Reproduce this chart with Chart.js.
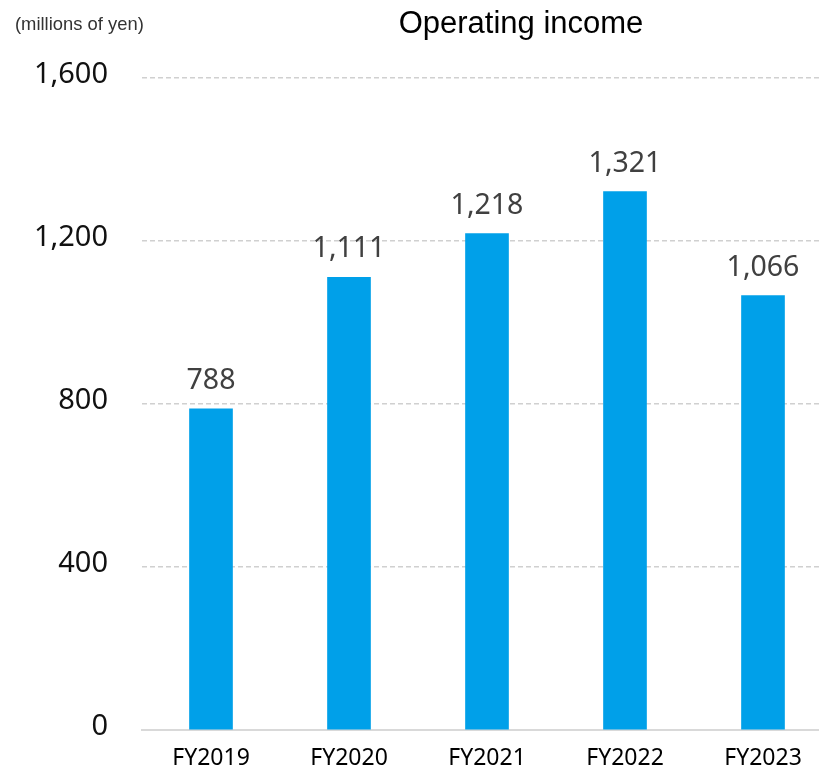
<!DOCTYPE html>
<html>
<head>
<meta charset="utf-8">
<script src="https://cdn.jsdelivr.net/npm/chart.js@4.4.1/dist/chart.umd.min.js"></script>
<style>
    html, body { margin: 0; padding: 0; background: #fff; overflow: hidden; }
    #barChart { position: absolute; left: 0; top: 0; }
</style>
</head>
<body>
<canvas id="barChart" width="832" height="767" style="width:832px;height:767px"></canvas>
<script>
const years = ["FY2019", "FY2020", "FY2021", "FY2022", "FY2023"];
const operatingIncome = [788, 1111, 1218, 1321, 1066];
const yTicks = [0, 400, 800, 1200, 1600];

const chartTitle = "Operating income";
const unitLabel = "(millions of yen)";

const myBarChart = document.getElementById('barChart').getContext('2d');

// value labels above bars + title/unit text
const textPlugin = {
    id: 'textPlugin',
    afterDatasetsDraw(chart) {
        const ctx = chart.ctx;
        const meta = chart.getDatasetMeta(0);
        ctx.save();
        ctx.fillStyle = '#404040';
        ctx.font = '28.5px "Noto Sans"';
        ctx.textAlign = 'center';
        ctx.textBaseline = 'alphabetic';
        meta.data.forEach((bar, i) => {
            ctx.fillText(operatingIncome[i].toLocaleString('en-US'), bar.x, bar.y - 20);
        });
        ctx.restore();
    },
    afterDraw(chart) {
        const ctx = chart.ctx;
        ctx.save();
        ctx.textBaseline = 'middle';
        ctx.fillStyle = '#000';
        ctx.font = '31px "Liberation Sans"';
        ctx.textAlign = 'center';
        ctx.fillText(chartTitle, 521, 24);
        ctx.fillStyle = '#333';
        ctx.font = '18.4px "Liberation Sans"';
        ctx.textAlign = 'left';
        ctx.fillText(unitLabel, 15, 25);
        ctx.restore();
    }
};

new Chart(myBarChart, {
    type: 'bar',
    data: {
        labels: years,
        datasets: [
            {
                label: chartTitle,
                data: operatingIncome,
                backgroundColor: '#00a0e9',
                barThickness: 43,
            }
        ]
    },
    options: {
        responsive: false,
        animation: false,
        devicePixelRatio: 1,
        layout: {
            padding: { left: 0, top: 78, right: 0, bottom: 0 }
        },
        plugins: {
            legend: { display: false },
            tooltip: { enabled: false },
        },
        scales: {
            x: {
                afterFit: (scale) => {
                    scale.height = 37;
                    scale.paddingLeft = 0;
                    scale.paddingRight = 0;
                },
                grid: { display: false, drawTicks: false },
                border: { display: true, color: '#d9d9d9', width: 2 },
                ticks: {
                    color: '#000',
                    padding: 15,
                    font: { family: 'Noto Sans', size: 23 },
                },
            },
            y: {
                min: 0,
                max: 1600,
                afterFit: (scale) => {
                    scale.width = 142;
                    scale.paddingTop = 0;
                    scale.paddingBottom = 0;
                },
                afterBuildTicks: (scale) => {
                    scale.ticks = yTicks.map(v => ({ value: v }));
                },
                border: { display: false, dash: [5, 3] },
                grid: {
                    drawTicks: false,
                    color: (c) => c.tick && c.tick.value === 0 ? 'rgba(0,0,0,0)' : '#d0d0d0',
                    lineWidth: 1.5,
                },
                ticks: {
                    color: '#111',
                    padding: 34,
                    labelOffset: -3,
                    font: { family: 'Noto Sans', size: 29 },
                    callback: (value) => value.toLocaleString('en-US'),
                },
            }
        }
    },
    plugins: [textPlugin]
});
</script>
</body>
</html>
